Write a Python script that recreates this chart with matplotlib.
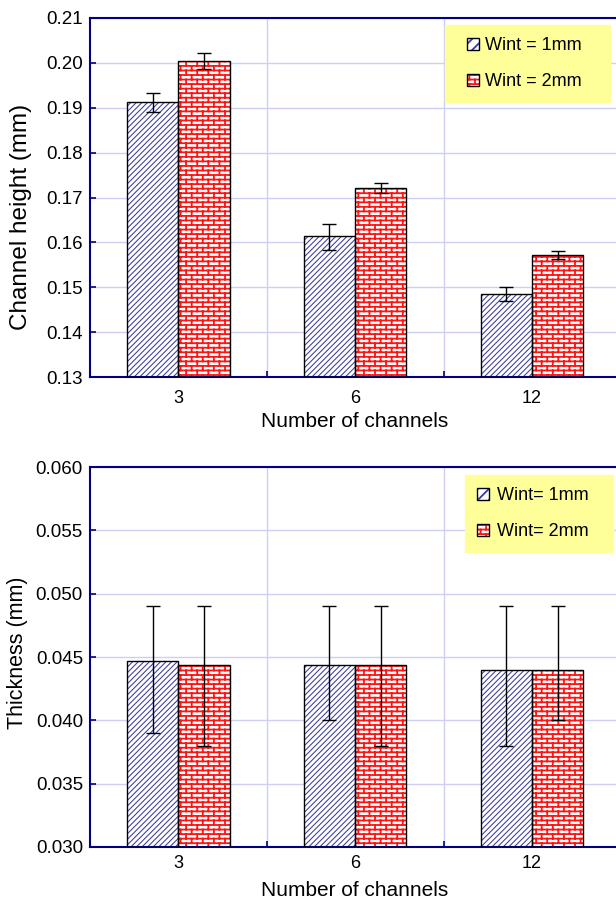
import warnings
import numpy as np
import matplotlib
matplotlib.use('Agg')
import matplotlib.pyplot as plt
import matplotlib.hatch as mhatch
from matplotlib.path import Path
from matplotlib.patches import Rectangle
from matplotlib.ticker import FixedLocator, FormatStrFormatter
from matplotlib.legend_handler import HandlerTuple, HandlerPatch

warnings.filterwarnings('ignore')

# data
groups = ['3', '6', '12']
labels_top = ['Wint = 1mm', 'Wint = 2mm']
labels_bot = ['Wint= 1mm', 'Wint= 2mm']

height_1mm = [0.1913, 0.1614, 0.1485]
height_1mm_lo = [0.0022, 0.0030, 0.0015]
height_1mm_hi = [0.0020, 0.0027, 0.0015]
height_2mm = [0.2005, 0.1721, 0.1572]
height_2mm_lo = [0.0018, 0.0011, 0.0009]
height_2mm_hi = [0.0016, 0.0012, 0.0010]

thick_1mm = [0.0447, 0.0444, 0.0440]
thick_1mm_lo = [0.0057, 0.0044, 0.0060]
thick_1mm_hi = [0.0043, 0.0046, 0.0050]
thick_2mm = [0.0444, 0.0444, 0.0440]
thick_2mm_lo = [0.0064, 0.0064, 0.0040]
thick_2mm_hi = [0.0046, 0.0046, 0.0050]


class BrickHatch(mhatch.HatchPatternBase):
    # brick wall pattern, triggered by 'b' in the hatch string
    def __init__(self, hatch, density):
        self.rows = 22
        self.cols = 9
        if 'b' in hatch:
            # horizontal lines + vertical joints (last row split in two across the tile edge)
            self.num_lines = self.rows + self.rows * self.cols + self.cols
        else:
            self.num_lines = 0
        self.num_vertices = self.num_lines * 2

    def set_vertices_and_codes(self, vertices, codes):
        k = 0
        n = self.rows
        for i in range(n):
            y0 = (i + 0.5) / n
            vertices[k] = (0, y0)
            vertices[k + 1] = (1, y0)
            k += 2
            off = 0.25 + 0.5 * (i % 2)
            for j in range(self.cols):
                xx = (j + off) / self.cols
                if i < n - 1:
                    vertices[k] = (xx, y0)
                    vertices[k + 1] = (xx, (i + 1.5) / n)
                    k += 2
                else:
                    vertices[k] = (xx, y0)
                    vertices[k + 1] = (xx, 1.0)
                    vertices[k + 2] = (xx, 0.0)
                    vertices[k + 3] = (xx, 0.5 / n)
                    k += 4
        codes[0::2] = Path.MOVETO
        codes[1::2] = Path.LINETO


mhatch._hatch_types.append(BrickHatch)

plt.rcParams['font.family'] = ['Liberation Sans', 'DejaVu Sans']

navy = '#000080'
blue_h = '#3a3aa0'
red_h = '#ff1414'
grid_c = '#cfcff5'
styles = [(blue_h, '//////', 0.75), (red_h, 'b', 1.3)]

fig = plt.figure(figsize=(6.16, 9), dpi=100)
ax1 = fig.add_axes([0.146, 0.581, 0.861, 0.399])
ax2 = fig.add_axes([0.146, 0.059, 0.861, 0.422])

x = np.arange(1, len(groups) + 1)
w = 0.29


def hatched(ax, pos, vals, ymin, style):
    hc, hatch, hlw = style
    plt.rcParams['hatch.linewidth'] = hlw
    base = [ymin] * len(vals)
    heights = [v - ymin for v in vals]
    bars = ax.bar(pos, heights, w, bottom=base, facecolor='white', edgecolor=hc,
                  hatch=hatch, linewidth=0, zorder=2)
    for b in bars:
        if hasattr(b, 'set_hatch_linewidth'):
            b.set_hatch_linewidth(hlw)
    ax.bar(pos, heights, w, bottom=base, fill=False, edgecolor='black',
           linewidth=1.0, zorder=3)


def handle(style):
    hc, hatch, hlw = style
    plt.rcParams['hatch.linewidth'] = hlw
    r = Rectangle((0, 0), 1, 1, facecolor='white', edgecolor=hc,
                  hatch=hatch.replace('//////', '///'), linewidth=0)
    if hasattr(r, 'set_hatch_linewidth'):
        r.set_hatch_linewidth(hlw)
    o = Rectangle((0, 0), 1, 1, fill=False, edgecolor='black', linewidth=1.0)
    return (r, o)


def square_right(legend, orig_handle, xdescent, ydescent, width, height, fontsize):
    # 12 px square at the right end of the handle box
    s = 12 * 72 / 100
    return Rectangle((-xdescent + width - s, -ydescent + (height - s) / 2), s, s)


def draw(ax, v1, lo1, hi1, v2, lo2, hi2, ymin, ymax, step, fmt, ylabel, ylfs, ylpos,
         labs, anchor, hlen, hpad, xpad, xlpad):
    ax.set_axisbelow(True)
    hatched(ax, x - w / 2, v1, ymin, styles[0])
    hatched(ax, x + w / 2, v2, ymin, styles[1])
    ax.errorbar(x - w / 2, v1, yerr=[lo1, hi1], fmt='none', ecolor='black',
                elinewidth=1.0, capsize=5, capthick=1.0, zorder=4)
    ax.errorbar(x + w / 2, v2, yerr=[lo2, hi2], fmt='none', ecolor='black',
                elinewidth=1.0, capsize=5, capthick=1.0, zorder=4)

    ax.set_xlim(0.5, 3.5)
    ax.set_ylim(ymin, ymax)
    ax.set_yticks(np.arange(ymin, ymax + step / 2, step))
    ax.yaxis.set_major_formatter(FormatStrFormatter(fmt))
    ax.xaxis.set_major_locator(FixedLocator([1.5, 2.5]))
    ax.xaxis.set_major_formatter(plt.NullFormatter())
    ax.xaxis.set_minor_locator(FixedLocator(list(x)))
    ax.set_xticklabels(groups, minor=True)
    ax.tick_params(axis='x', which='minor', length=0, labelsize=13, pad=xpad)
    ax.tick_params(axis='both', which='major', direction='in', length=4,
                   color=navy, width=1.2)
    ax.tick_params(axis='y', labelsize=13.5, pad=5)
    ax.grid(True, which='major', color=grid_c, linewidth=1.0)
    for s in ax.spines.values():
        s.set_color(navy)
        s.set_linewidth(1.5)
    ax.set_xlabel('Number of channels', fontsize=15, labelpad=xlpad)
    ax.set_ylabel(ylabel, fontsize=ylfs)
    ax.yaxis.set_label_coords(*ylpos)

    leg = ax.legend([handle(styles[0]), handle(styles[1])], labs, loc='upper right',
                    bbox_to_anchor=anchor, mode='expand', borderaxespad=0, fontsize=13,
                    handler_map={tuple: HandlerTuple(ndivide=1),
                                 Rectangle: HandlerPatch(patch_func=square_right)},
                    handlelength=hlen, handleheight=0.7,
                    labelspacing=1.05, handletextpad=hpad, borderpad=0.65,
                    fancybox=False, framealpha=1.0)
    leg.get_frame().set_facecolor('#ffff99')
    leg.get_frame().set_edgecolor('#ffff99')


draw(ax1, height_1mm, height_1mm_lo, height_1mm_hi, height_2mm, height_2mm_lo, height_2mm_hi,
     0.13, 0.21, 0.01, '%.2f', 'Channel height (mm)', 17.5, (-0.109, 0.446),
     labels_top, (0.670, 0.0, 0.311, 0.980), 1.22, 0.33, 9, 4)
draw(ax2, thick_1mm, thick_1mm_lo, thick_1mm_hi, thick_2mm, thick_2mm_lo, thick_2mm_hi,
     0.030, 0.060, 0.005, '%.3f', 'Thickness (mm)', 15.5, (-0.117, 0.511),
     labels_bot, (0.7075, 0.0, 0.2795, 0.978), 0.67, 0.45, 6, 6)

fig.savefig('out.png', dpi=100)
